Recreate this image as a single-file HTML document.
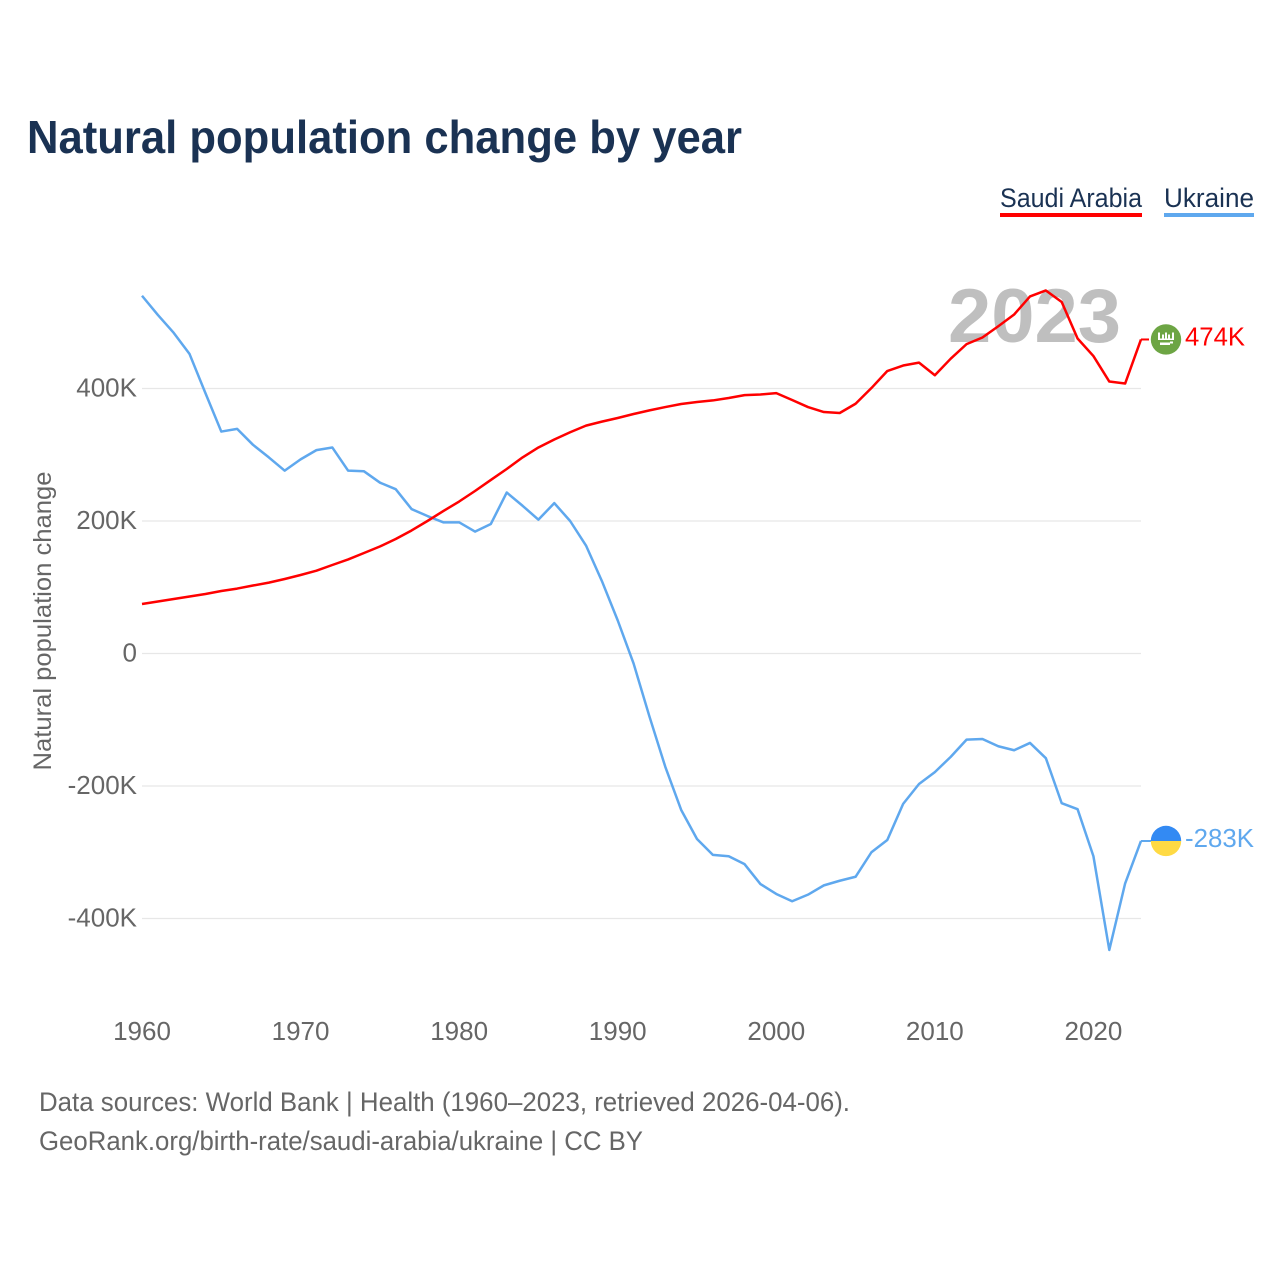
<!DOCTYPE html>
<html lang="en">
<head>
<meta charset="utf-8">
<title>Natural population change by year</title>
<style>
  html, body { margin: 0; padding: 0; background: #fff; }
  svg { display: block; font-family: "Liberation Sans", sans-serif; }
</style>
</head>
<body>
<svg id="chart" width="1280" height="1280" viewBox="0 0 1280 1280" xmlns="http://www.w3.org/2000/svg">
  <rect x="0" y="0" width="1280" height="1280" fill="#ffffff"/>
  <text x="27" y="153" font-size="46" font-weight="700" fill="#1a3253" textLength="715" lengthAdjust="spacingAndGlyphs">Natural population change by year</text>

  <g>
    <g>
      <text x="1000" y="207" font-size="27" fill="#1a3253" textLength="142" lengthAdjust="spacingAndGlyphs">Saudi Arabia</text>
      <rect x="1000" y="213" width="142" height="4" fill="#ff0000"/>
    </g>
    <g>
      <text x="1164" y="207" font-size="27" fill="#1a3253" textLength="90" lengthAdjust="spacingAndGlyphs">Ukraine</text>
      <rect x="1164" y="213" width="90" height="4" fill="#5fa8ee"/>
    </g>
  </g>

  <g id="grid"></g>
  <g id="y-ticks"></g>
  <g id="x-ticks"></g>

  <text transform="translate(51,621) rotate(-90)" text-anchor="middle" font-size="25" fill="#666666" textLength="299" lengthAdjust="spacingAndGlyphs">Natural population change</text>

  <text x="948" y="342" font-size="76" font-weight="700" fill="#bfbfbf" textLength="173" lengthAdjust="spacingAndGlyphs">2023</text>

  <g id="series"></g>

  <g id="end-markers"></g>

  <text x="39" y="1111" font-size="27" fill="#666666" textLength="811" lengthAdjust="spacingAndGlyphs">Data sources: World Bank | Health (1960–2023, retrieved 2026-04-06).</text>
  <text x="39" y="1150" font-size="27" fill="#666666" textLength="604" lengthAdjust="spacingAndGlyphs">GeoRank.org/birth-rate/saudi-arabia/ukraine | CC BY</text>
</svg>

<script>
const startYear = 1960;
const endYear = 2023;
const yTickValues = [400, 200, 0, -200, -400];
const xTickValues = [1960, 1970, 1980, 1990, 2000, 2010, 2020];
const saudiValues = [
  74.7, 78.5, 82.3, 86, 89.8, 94.3, 98, 102.6, 107, 112.5,
  118.5, 125, 133.6, 142, 151.7, 161.5, 172.8, 185.7, 200, 215,
  229.4, 245.3, 262, 278.5, 296, 311, 323, 334, 344, 350,
  355.5, 361.5, 367, 372, 376.6, 379.6, 382, 385.6, 390, 391,
  393, 382.6, 372, 364.5, 363, 377, 400.7, 426.4, 434.7, 439,
  420, 445, 467, 477, 494, 511.7, 539, 548, 530.6, 475.5,
  449, 410.5, 407.5, 474
];
const ukraineValues = [
  540, 511, 484, 452, 393, 335, 339, 315, 296, 276,
  293, 307, 311, 276, 275, 258, 248, 218, 207.5, 198,
  198, 184, 195.5, 243, 223, 202, 227, 200, 163, 109.5,
  50, -15, -95, -171, -236, -280, -304, -306, -318, -348,
  -363, -374, -364, -350, -343, -337, -300, -281.5, -227, -197,
  -179, -156, -130, -129, -140, -146, -135, -158, -226, -235,
  -306, -447.5, -347, -283
];

const SVG_NS = 'http://www.w3.org/2000/svg';
const plotLeft = 142;
const plotRight = 1141;
const zeroY = 653.5;
const pxPerUnit = 132.5 / 200;

function xScale(year) {
  return plotLeft + (year - startYear) * (plotRight - plotLeft) / (endYear - startYear);
}
function yScale(value) {
  return zeroY - value * pxPerUnit;
}
function formatTick(v) {
  return v === 0 ? '0' : v + 'K';
}
function make(tag, attrs, parent) {
  const el = document.createElementNS(SVG_NS, tag);
  for (const k in attrs) el.setAttribute(k, attrs[k]);
  parent.appendChild(el);
  return el;
}

const gridGroup = document.getElementById('grid');
const yTickGroup = document.getElementById('y-ticks');
yTickValues.forEach(function (v) {
  const line = make('line', { x1: plotLeft, x2: plotRight, y1: yScale(v), y2: yScale(v), stroke: '#e7e7e7', 'stroke-width': 1.2 }, gridGroup);
  
  
  const label = make('text', { x: 137, y: yScale(v) + 8, 'text-anchor': 'end', 'font-size': 26, fill: '#666666' }, yTickGroup);
  
  
  label.textContent = formatTick(v);
});

const xTickGroup = document.getElementById('x-ticks');
xTickValues.forEach(function (year) {
  const label = make('text', { x: xScale(year), y: 1040, 'text-anchor': 'middle', 'font-size': 26, fill: '#666666' }, xTickGroup);
  
  
  label.textContent = String(year);
});

function linePoints(values) {
  return values.map(function (v, i) {
    return xScale(startYear + i).toFixed(2) + ',' + yScale(v).toFixed(2);
  }).join(' ');
}

const seriesGroup = document.getElementById('series');
const ukraineLine = make('polyline', { points: linePoints(ukraineValues), fill: 'none', stroke: '#5fa8ee', 'stroke-width': 2.5, 'stroke-linejoin': 'round' }, seriesGroup);


const saudiLine = make('polyline', { points: linePoints(saudiValues), fill: 'none', stroke: '#ff0000', 'stroke-width': 2.5, 'stroke-linejoin': 'round' }, seriesGroup);



const endGroup = document.getElementById('end-markers');

// Saudi Arabia end marker
const saudiLastY = yScale(saudiValues[saudiValues.length - 1]);
const saudiStub = make('line', { x1: plotRight, x2: 1149, y1: saudiLastY, y2: saudiLastY, stroke: '#ff0000', 'stroke-width': 2 }, endGroup);


const saudiFlag = make('g', { transform: 'translate(1166,' + saudiLastY + ')' }, endGroup);


make('circle', { cx: 0, cy: 0, r: 15.2, fill: '#6da544' }, saudiFlag);
make('path', { d: 'M-8,-7h2v6h-2zM-4,-5h2v4h-2zM-1,-7h2v6h-2zM2,-5h2v4h-2zM6,-7h2v7h-2zM-8,-1h16v1.5h-16z', fill: '#ffffff' }, saudiFlag);
make('path', { d: 'M-6,3h10v2.5h-10zM4,2h3v2h-3z', fill: '#ffffff' }, saudiFlag);
const saudiValueLabel = make('text', { x: 1185, y: saudiLastY + 6, 'font-size': 26, fill: '#ff0000', textLength: 60, lengthAdjust: 'spacingAndGlyphs' }, endGroup);


saudiValueLabel.textContent = Math.round(saudiValues[saudiValues.length - 1]) + 'K';

// Ukraine end marker
const ukraineLastY = yScale(ukraineValues[ukraineValues.length - 1]);
const ukraineStub = make('line', { x1: plotRight, x2: 1151, y1: ukraineLastY, y2: ukraineLastY, stroke: '#5fa8ee', 'stroke-width': 2 }, endGroup);


const ukraineFlag = make('g', { transform: 'translate(1166,' + ukraineLastY + ')' }, endGroup);


make('path', { d: 'M-15.2,0A15.2,15.2 0 0 1 15.2,0Z', fill: '#338af3' }, ukraineFlag);
make('path', { d: 'M-15.2,0A15.2,15.2 0 0 0 15.2,0Z', fill: '#ffda44' }, ukraineFlag);
const ukraineValueLabel = make('text', { x: 1185, y: ukraineLastY + 6, 'font-size': 26, fill: '#5fa8ee', textLength: 69, lengthAdjust: 'spacingAndGlyphs' }, endGroup);


ukraineValueLabel.textContent = Math.round(ukraineValues[ukraineValues.length - 1]) + 'K';
</script>
</body>
</html>
